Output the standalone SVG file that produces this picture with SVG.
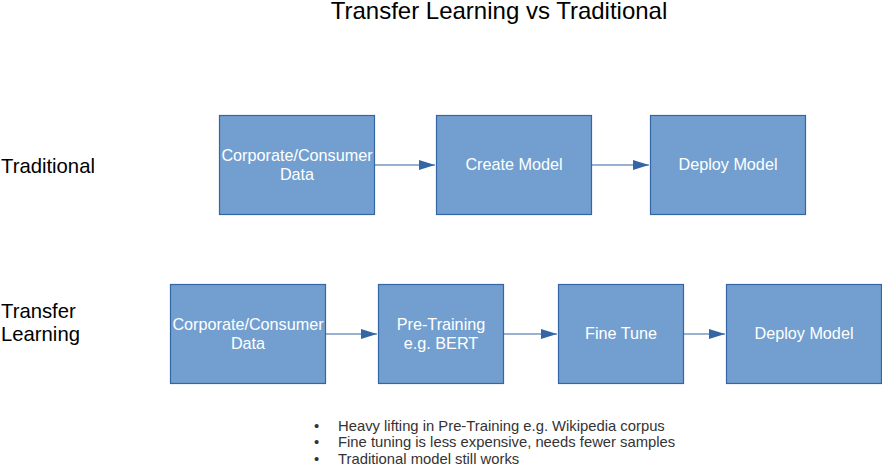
<svg xmlns="http://www.w3.org/2000/svg" width="882" height="466" viewBox="0 0 882 466">
<style>
.box{fill:#729fcf;stroke:#3465a4;stroke-width:1.2}
.bt{font-family:"Liberation Sans",Arial,sans-serif;font-size:16.2px;fill:#ffffff;text-anchor:middle}
.lbl{font-family:"Liberation Sans",Arial,sans-serif;font-size:20.3px;fill:#000}
.bul{font-family:"Liberation Sans",Arial,sans-serif;font-size:14.8px;fill:#333}
.c{stroke:#3465a4;stroke-width:1.2;fill:none}
</style>
<defs>
<marker id="ah" markerWidth="16" markerHeight="10" refX="16" refY="5" orient="auto" markerUnits="userSpaceOnUse">
<path d="M0,0 L16,5 L0,10 Z" fill="#3465a4"/>
</marker>
</defs>
<rect width="882" height="466" fill="#fff"/>
<text x="499" y="19" font-family="Liberation Sans,Arial,sans-serif" font-size="24" text-anchor="middle">Transfer Learning vs Traditional</text>
<text class="lbl" x="1" y="173">Traditional</text>
<text class="lbl" x="1" y="318">Transfer</text>
<text class="lbl" x="1" y="341">Learning</text>
<g id="connectors">
<line class="c" x1="374" y1="165" x2="435" y2="165" marker-end="url(#ah)"/>
<line class="c" x1="591" y1="165" x2="649" y2="165" marker-end="url(#ah)"/>
<line class="c" x1="325" y1="334" x2="377" y2="334" marker-end="url(#ah)"/>
<line class="c" x1="503" y1="334" x2="557" y2="334" marker-end="url(#ah)"/>
<line class="c" x1="683" y1="334" x2="725" y2="334" marker-end="url(#ah)"/>
</g>
<g id="t1"><rect class="box" x="219.5" y="115.5" width="155" height="99"/><text class="bt" x="297" y="161">Corporate/Consumer</text><text class="bt" x="297" y="180">Data</text></g>
<g id="t2"><rect class="box" x="436.5" y="115.5" width="155" height="99"/><text class="bt" x="514" y="170">Create Model</text></g>
<g id="t3"><rect class="box" x="650.5" y="115.5" width="155" height="99"/><text class="bt" x="728" y="170">Deploy Model</text></g>
<g id="l1"><rect class="box" x="170.5" y="284.5" width="155" height="99"/><text class="bt" x="248" y="330">Corporate/Consumer</text><text class="bt" x="248" y="349">Data</text></g>
<g id="l2"><rect class="box" x="378.5" y="284.5" width="125" height="99"/><text class="bt" x="441" y="330">Pre-Training</text><text class="bt" x="441" y="349">e.g. BERT</text></g>
<g id="l3"><rect class="box" x="558.5" y="284.5" width="125" height="99"/><text class="bt" x="621" y="339">Fine Tune</text></g>
<g id="l4"><rect class="box" x="726.5" y="284.5" width="155" height="99"/><text class="bt" x="804" y="339">Deploy Model</text></g>
<g id="notes">
<text class="bul" x="314" y="431">•</text><text class="bul" x="338" y="431">Heavy lifting in Pre-Training e.g. Wikipedia corpus</text>
<text class="bul" x="314" y="447">•</text><text class="bul" x="338" y="447">Fine tuning is less expensive, needs fewer samples</text>
<text class="bul" x="314" y="464">•</text><text class="bul" x="338" y="464">Traditional model still works</text>
</g>
</svg>
